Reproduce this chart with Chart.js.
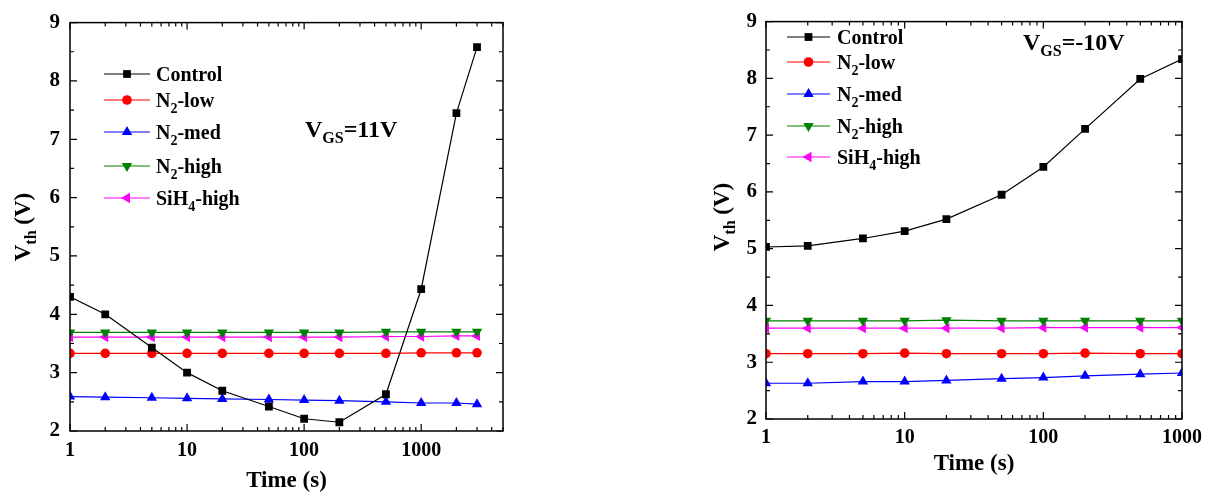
<!DOCTYPE html>
<html>
<head>
<meta charset="utf-8">
<script src="https://cdn.jsdelivr.net/npm/chart.js@4/dist/chart.umd.min.js"></script>
<style>
    body { margin: 0; background: #fff; }
    canvas { position: absolute; top: 0; }
    #leftChart { left: 0; }
    #rightChart { left: 690px; }
</style>
</head>
<body>
<canvas id="leftChart" width="540" height="496"></canvas>
<canvas id="rightChart" width="529" height="496"></canvas>
<script>
// 數據 (VGS = 11V)
const leftTimes = [1, 2, 5, 10, 20, 50, 100, 200, 500, 1000, 2000, 3000];
const leftControl = [4.30, 4.00, 3.43, 3.00, 2.69, 2.42, 2.21, 2.15, 2.63, 4.43, 7.45, 8.58];
const leftN2Low = [3.33, 3.33, 3.33, 3.33, 3.33, 3.33, 3.33, 3.33, 3.33, 3.34, 3.34, 3.34];
const leftN2Med = [2.59, 2.58, 2.57, 2.56, 2.55, 2.54, 2.53, 2.52, 2.50, 2.48, 2.48, 2.46];
const leftN2High = [3.69, 3.69, 3.69, 3.69, 3.69, 3.69, 3.69, 3.69, 3.70, 3.70, 3.70, 3.70];
const leftSiH4High = [3.61, 3.61, 3.61, 3.61, 3.61, 3.61, 3.61, 3.61, 3.62, 3.62, 3.63, 3.63];

// 數據 (VGS = -10V)
const rightTimes = [1, 2, 5, 10, 20, 50, 100, 200, 500, 1000];
const rightControl = [5.03, 5.05, 5.18, 5.31, 5.52, 5.95, 6.44, 7.11, 7.99, 8.34];
const rightN2Low = [3.15, 3.15, 3.15, 3.16, 3.15, 3.15, 3.15, 3.16, 3.15, 3.15];
const rightN2Med = [2.63, 2.63, 2.66, 2.66, 2.68, 2.71, 2.73, 2.76, 2.79, 2.81];
const rightN2High = [3.73, 3.73, 3.73, 3.73, 3.74, 3.73, 3.73, 3.73, 3.73, 3.73];
const rightSiH4High = [3.60, 3.60, 3.60, 3.60, 3.60, 3.60, 3.61, 3.61, 3.61, 3.61];

const xTickLabels = [1, 10, 100, 1000];
const yTickLabels = [2, 3, 4, 5, 6, 7, 8, 9];

const FONT = '"Liberation Serif", "Times New Roman", serif';

// 系列樣式
const seriesStyles = [
    { label: [['Control', 0]], color: '#000000', pointStyle: 'rect', radius: 5.5, rotation: 0 },
    { label: [['N', 0], ['2', 1], ['-low', 0]], color: '#ff0000', pointStyle: 'circle', radius: 4.8, rotation: 0 },
    { label: [['N', 0], ['2', 1], ['-med', 0]], color: '#0000ff', pointStyle: 'triangle', radius: 6, rotation: 0 },
    { label: [['N', 0], ['2', 1], ['-high', 0]], color: '#008000', pointStyle: 'triangle', radius: 6, rotation: 180 },
    { label: [['SiH', 0], ['4', 1], ['-high', 0]], color: '#ff00ff', pointStyle: 'triangle', radius: 6, rotation: 270 }
];

function toPoints(xs, ys) {
    return xs.map((x, i) => ({ x: x, y: ys[i] }));
}

function makeDatasets(times, seriesList) {
    return seriesList.map((values, i) => {
        const s = seriesStyles[i];
        return {
            label: s.label.map(p => p[0]).join(''),
            data: toPoints(times, values),
            borderColor: s.color,
            backgroundColor: s.color,
            borderWidth: 1.2,
            pointStyle: s.pointStyle,
            pointRadius: s.radius,
            pointRotation: s.rotation,
            pointBorderWidth: 0,
            tension: 0
        };
    });
}

// 下標文字
function drawParts(ctx, parts, x, y, size, subSize, subShift) {
    let cx = x;
    parts.forEach(p => {
        if (p[1]) {
            ctx.font = 'bold ' + subSize + 'px ' + FONT;
            ctx.fillText(p[0], cx, y + subShift);
        } else {
            ctx.font = 'bold ' + size + 'px ' + FONT;
            ctx.fillText(p[0], cx, y);
        }
        cx += ctx.measureText(p[0]).width;
    });
    return cx - x;
}

function partsWidth(ctx, parts, size, subSize) {
    let w = 0;
    parts.forEach(p => {
        ctx.font = 'bold ' + (p[1] ? subSize : size) + 'px ' + FONT;
        w += ctx.measureText(p[0]).width;
    });
    return w;
}

const decorPlugin = {
    id: 'decor',
    afterDraw(chart, args, opts) {
        const ctx = chart.ctx;
        const a = chart.chartArea;
        const xs = chart.scales.x;
        const ys = chart.scales.y;
        ctx.save();
        ctx.strokeStyle = '#000';
        ctx.fillStyle = '#000';

        // 邊框
        ctx.lineWidth = 1.5;
        ctx.strokeRect(a.left, a.top, a.right - a.left, a.bottom - a.top);

        // 刻度
        ctx.lineWidth = 1.2;
        ctx.beginPath();
        for (let d = 1; d <= xs.max; d *= 10) {
            for (let k = 1; k <= 9; k++) {
                const v = d * k;
                if (v < xs.min || v > xs.max) continue;
                const px = xs.getPixelForValue(v);
                const len = k === 1 ? 7 : 4;
                ctx.moveTo(px, a.bottom); ctx.lineTo(px, a.bottom - len);
                ctx.moveTo(px, a.top); ctx.lineTo(px, a.top + len);
            }
        }
        for (let v = ys.min; v <= ys.max; v += 0.5) {
            const py = ys.getPixelForValue(v);
            const len = Number.isInteger(v) ? 7 : 4;
            ctx.moveTo(a.left, py); ctx.lineTo(a.left + len, py);
            ctx.moveTo(a.right, py); ctx.lineTo(a.right - len, py);
        }
        ctx.stroke();

        // 軸標題
        ctx.textBaseline = 'alphabetic';
        ctx.textAlign = 'left';
        ctx.font = 'bold 23px ' + FONT;
        const xt = 'Time (s)';
        const xtw = ctx.measureText(xt).width;
        ctx.fillText(xt, (a.left + a.right) / 2 - xtw / 2, opts.xTitleY);

        const yParts = [['V', 0], ['th', 1], [' (V)', 0]];
        const ytw = partsWidth(ctx, yParts, 23, 16);
        ctx.save();
        ctx.translate(opts.yTitleX, opts.yTitleY);
        ctx.rotate(-Math.PI / 2);
        drawParts(ctx, yParts, -ytw / 2, 0, 23, 16, 6);
        ctx.restore();

        // 圖例
        const lg = opts.legend;
        seriesStyles.forEach((s, i) => {
            const y = lg.rows[i];
            ctx.strokeStyle = s.color;
            ctx.fillStyle = s.color;
            ctx.lineWidth = 1.2;
            ctx.beginPath();
            ctx.moveTo(lg.x1, y); ctx.lineTo(lg.x2, y);
            ctx.stroke();
            Chart.helpers.drawPoint(ctx, {
                pointStyle: s.pointStyle,
                radius: s.radius,
                rotation: s.rotation,
                borderWidth: 0
            }, (lg.x1 + lg.x2) / 2, y);
            ctx.fillStyle = '#000';
            drawParts(ctx, s.label, lg.tx, y + 7, 20, 14, 6);
        });

        // 註記
        ctx.fillStyle = '#000';
        drawParts(ctx, opts.note, opts.noteX, opts.noteY, 24, 16, 6);

        ctx.restore();
    }
};

function makeChart(id, times, seriesList, xMax, xAxisHeight, yAxisWidth, yPad, xPad, decor) {
    const ctx = document.getElementById(id).getContext('2d');
    return new Chart(ctx, {
        type: 'line',
        data: { datasets: makeDatasets(times, seriesList) },
        plugins: [decorPlugin],
        options: {
            responsive: false,
            animation: false,
            layout: { padding: { top: 15, right: 37, left: 0, bottom: 0 } },
            plugins: {
                legend: { display: false },
                tooltip: { enabled: false },
                decor: decor
            },
            scales: {
                x: {
                    type: 'logarithmic',
                    min: 1,
                    max: xMax,
                    grid: { display: false, drawTicks: false },
                    border: { display: false },
                    afterBuildTicks: scale => {
                        scale.ticks = xTickLabels.map(v => ({ value: v }));
                    },
                    afterFit: scale => { scale.height = xAxisHeight; },
                    ticks: {
                        color: '#000',
                        padding: xPad,
                        maxRotation: 0,
                        autoSkip: false,
                        font: { family: FONT, size: 20, weight: 'bold' },
                        callback: v => String(v)
                    }
                },
                y: {
                    min: 2,
                    max: 9,
                    grid: { display: false, drawTicks: false },
                    border: { display: false },
                    afterBuildTicks: scale => {
                        scale.ticks = yTickLabels.map(v => ({ value: v }));
                    },
                    afterFit: scale => { scale.width = yAxisWidth; },
                    ticks: {
                        color: '#000',
                        padding: yPad,
                        font: { family: FONT, size: 21, weight: 'bold' }
                    }
                }
            }
        }
    });
}

document.addEventListener('DOMContentLoaded', function() {
    makeChart('leftChart', leftTimes,
        [leftControl, leftN2Low, leftN2Med, leftN2High, leftSiH4High],
        5000, 65, 70, 10, 8, {
            xTitleY: 487,
            yTitleX: 30,
            yTitleY: 227,
            legend: { x1: 104, x2: 150, tx: 156, rows: [74, 100, 132, 166, 198] },
            note: [['V', 0], ['GS', 1], ['=11V', 0]],
            noteX: 305,
            noteY: 137
        });

    makeChart('rightChart', rightTimes,
        [rightControl, rightN2Low, rightN2Med, rightN2High, rightSiH4High],
        1000, 77, 76, 9, 7, {
            xTitleY: 470,
            yTitleX: 39,
            yTitleY: 217,
            legend: { x1: 97, x2: 140, tx: 147, rows: [37, 62, 94, 126, 157] },
            note: [['V', 0], ['GS', 1], ['=-10V', 0]],
            noteX: 333,
            noteY: 50
        });
});
</script>
</body>
</html>
